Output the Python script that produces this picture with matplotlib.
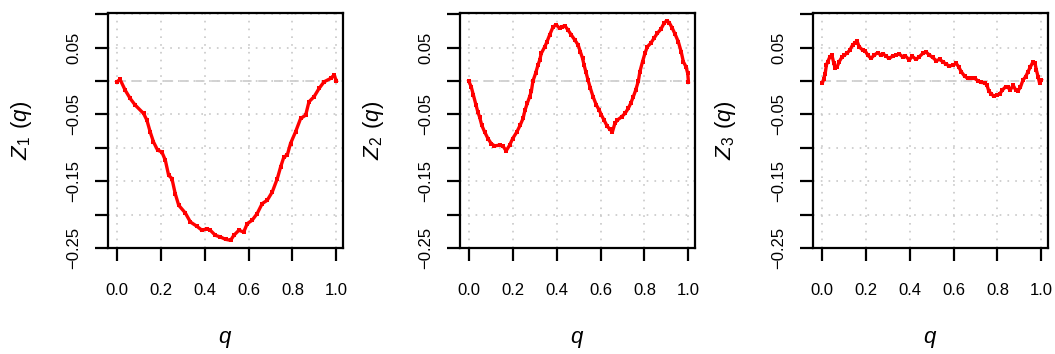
import matplotlib
matplotlib.use("Agg")
import matplotlib.pyplot as plt
import numpy as np

# ---------------- data ----------------
q1 = [0.0, 0.015, 0.038, 0.061, 0.084, 0.122, 0.137, 0.152, 0.167, 0.186, 0.205, 0.221,
      0.236, 0.251, 0.266, 0.282, 0.312, 0.335, 0.365, 0.388, 0.411, 0.426, 0.449, 0.472,
      0.495, 0.518, 0.533, 0.556, 0.578, 0.594, 0.616, 0.639, 0.662, 0.685, 0.708, 0.731,
      0.746, 0.761, 0.776, 0.791, 0.814, 0.837, 0.86, 0.875, 0.898, 0.921, 0.944, 0.974,
      0.989, 1.0]
z1 = [-0.001, 0.0025, -0.0135, -0.026, -0.036, -0.0485, -0.0585, -0.076, -0.091, -0.1035,
      -0.106, -0.1185, -0.141, -0.146, -0.1685, -0.186, -0.1975, -0.211, -0.2175, -0.2235,
      -0.221, -0.2235, -0.231, -0.2335, -0.237, -0.2385, -0.231, -0.2235, -0.226, -0.2135,
      -0.2085, -0.1985, -0.1835, -0.1785, -0.166, -0.146, -0.1285, -0.1135, -0.111, -0.0935,
      -0.076, -0.056, -0.051, -0.031, -0.0235, -0.011, -0.001, 0.004, 0.009, 0.0005]

q2 = [0.0, 0.011, 0.021, 0.033, 0.041, 0.049, 0.059, 0.072, 0.087, 0.102, 0.117, 0.14,
      0.155, 0.17, 0.186, 0.2, 0.219, 0.234, 0.247, 0.256, 0.266, 0.277, 0.285, 0.292,
      0.304, 0.315, 0.323, 0.33, 0.346, 0.356, 0.368, 0.384, 0.399, 0.414, 0.426, 0.437,
      0.452, 0.467, 0.483, 0.498, 0.508, 0.518, 0.525, 0.533, 0.543, 0.554, 0.566, 0.581,
      0.594, 0.604, 0.616, 0.63, 0.642, 0.654, 0.665, 0.676, 0.696, 0.711, 0.726, 0.737,
      0.749, 0.76, 0.772, 0.779, 0.791, 0.802, 0.813, 0.828, 0.843, 0.858, 0.874, 0.889,
      0.901, 0.913, 0.927, 0.939, 0.954, 0.967, 0.977, 0.989, 0.997, 1.0]
z2 = [0.0, -0.0085, -0.021, -0.036, -0.046, -0.0535, -0.066, -0.076, -0.086, -0.0935,
      -0.097, -0.096, -0.097, -0.1045, -0.096, -0.086, -0.076, -0.066, -0.056, -0.0435,
      -0.0335, -0.0235, -0.015, 0.0, 0.0115, 0.024, 0.0315, 0.0415, 0.0515, 0.059, 0.069,
      0.0815, 0.084, 0.079, 0.0815, 0.083, 0.0765, 0.069, 0.0615, 0.054, 0.044, 0.034,
      0.024, 0.014, 0.0015, -0.011, -0.0235, -0.036, -0.0435, -0.051, -0.0585, -0.0675,
      -0.072, -0.076, -0.0635, -0.0585, -0.0535, -0.0485, -0.041, -0.0335, -0.0235,
      -0.0135, 0.0, 0.014, 0.029, 0.0415, 0.0515, 0.0565, 0.064, 0.0715, 0.0775, 0.0865,
      0.0905, 0.0875, 0.079, 0.0705, 0.059, 0.044, 0.029, 0.0215, 0.0115, -0.001]

q3 = [0.003, 0.008, 0.015, 0.021, 0.027, 0.037, 0.046, 0.055, 0.061, 0.07, 0.079, 0.091,
      0.102, 0.114, 0.128, 0.14, 0.152, 0.16, 0.17, 0.186, 0.198, 0.209, 0.224, 0.239,
      0.254, 0.269, 0.28, 0.292, 0.307, 0.323, 0.338, 0.353, 0.368, 0.381, 0.399, 0.411,
      0.429, 0.444, 0.46, 0.475, 0.49, 0.505, 0.521, 0.536, 0.551, 0.566, 0.581, 0.597,
      0.612, 0.623, 0.635, 0.65, 0.665, 0.68, 0.696, 0.711, 0.726, 0.741, 0.752, 0.76,
      0.772, 0.784, 0.798, 0.81, 0.822, 0.837, 0.848, 0.858, 0.871, 0.883, 0.893, 0.904,
      0.916, 0.928, 0.939, 0.95, 0.962, 0.971, 0.977, 0.985, 0.992, 1.0]
z3 = [-0.0025, 0.0025, 0.0105, 0.024, 0.029, 0.0365, 0.039, 0.0265, 0.019, 0.0215, 0.029,
      0.0355, 0.039, 0.0415, 0.0465, 0.054, 0.0575, 0.0605, 0.0515, 0.0465, 0.045, 0.039,
      0.034, 0.039, 0.0425, 0.039, 0.0405, 0.0375, 0.034, 0.0375, 0.039, 0.0405, 0.0365,
      0.0375, 0.0315, 0.0375, 0.0325, 0.0365, 0.0415, 0.0435, 0.039, 0.0355, 0.0305, 0.0325,
      0.029, 0.0255, 0.0225, 0.024, 0.0265, 0.0215, 0.014, 0.0075, 0.004, 0.004, 0.004,
      0.0005, -0.002, -0.0025, -0.006, -0.0145, -0.0195, -0.0225, -0.021, -0.0195, -0.0135,
      -0.0085, -0.0095, -0.0135, -0.006, -0.0135, -0.0145, -0.0095, 0.0015, 0.0065, 0.014,
      0.0215, 0.029, 0.0265, 0.0165, 0.0065, -0.0035, 0.0015]

x_ticks = [0.0, 0.2, 0.4, 0.6, 0.8, 1.0]
x_tick_labels = ["0.0", "0.2", "0.4", "0.6", "0.8", "1.0"]
y_ticks = [0.10, 0.05, 0.0, -0.05, -0.10, -0.15, -0.20, -0.25]
y_tick_labels = ["", "0.05", "", "\u22120.05", "", "\u22120.15", "", "\u22120.25"]
y_labels = [r"$Z_1\;\,(q)$", r"$Z_2\;\,(q)$", r"$Z_3\;\,(q)$"]
x_label = r"$q$"

series = [(q1, z1), (q2, z2), (q3, z3)]

# ---------------- style ----------------
plt.rcParams["font.family"] = ["Liberation Sans", "DejaVu Sans"]
plt.rcParams["mathtext.fontset"] = "custom"
plt.rcParams["mathtext.it"] = "Liberation Sans:italic"
plt.rcParams["mathtext.rm"] = "Liberation Sans"
plt.rcParams["lines.scale_dashes"] = False

W, H = 1055, 354
fig = plt.figure(figsize=(W / 100, H / 100), dpi=100)
fig.patch.set_facecolor("white")

lefts = [108, 460, 813]
box_w, box_top, box_bot = 235, 13, 248

for i, (xs, ys) in enumerate(series):
    ax = fig.add_axes([lefts[i] / W, (H - box_bot) / H, box_w / W, (box_bot - box_top) / H])
    ax.set_xlim(-0.04, 1.03)
    ax.set_ylim(-0.25, 0.102)

    ax.set_xticks(x_ticks)
    ax.set_xticklabels(x_tick_labels, fontsize=12)
    ax.set_yticks(y_ticks)
    ax.set_yticklabels(y_tick_labels, fontsize=12, rotation=90, va="center")

    ax.tick_params(axis="both", direction="out", length=9.4, width=1.6, color="black")
    ax.tick_params(axis="x", pad=16)
    ax.tick_params(axis="y", pad=10)

    for s in ax.spines.values():
        s.set_linewidth(1.6)
        s.set_color("black")

    ax.grid(True, color="#c8c8c8", linestyle=(0, (1.2, 4.4)), linewidth=1.2)
    ax.set_axisbelow(True)

    ax.plot([0, 1], [0, 0], color="#cfcfcf", linestyle=(0, (6.5, 4.8)), linewidth=1.3, zorder=2)

    ax.plot(xs, ys, color="#ff0000", linewidth=2.4, marker="s", markersize=2.8,
            markeredgewidth=0, zorder=3)

    ax.text(-87 / box_w, 0.5, y_labels[i], transform=ax.transAxes, rotation=90,
            ha="center", va="center", fontsize=16)
    ax.text(0.5, -(340 - box_bot) / (box_bot - box_top), x_label, transform=ax.transAxes,
            ha="center", va="center", fontsize=16)

fig.savefig("out.png", dpi=100, facecolor="white")
